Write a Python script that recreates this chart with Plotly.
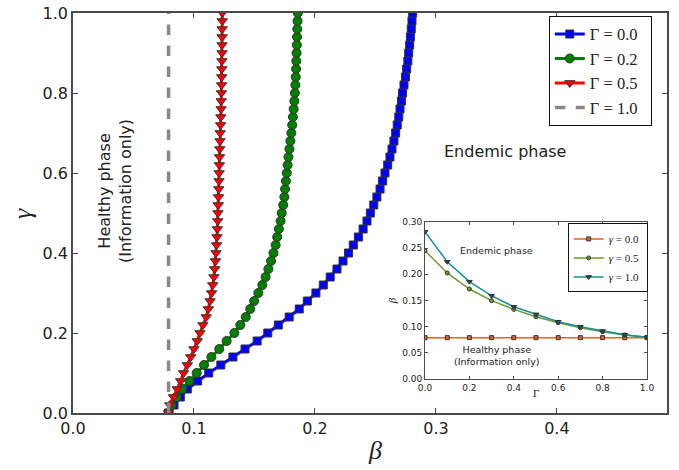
import plotly.graph_objects as go

# ---- main panel data: beta threshold vs gamma ----
gamma = [0.00, 0.02, 0.04, 0.06, 0.08, 0.10, 0.12, 0.14, 0.16, 0.18,
         0.20, 0.22, 0.24, 0.26, 0.28, 0.30, 0.32, 0.34, 0.36, 0.38,
         0.40, 0.42, 0.44, 0.46, 0.48, 0.50, 0.52, 0.54, 0.56, 0.58,
         0.60, 0.62, 0.64, 0.66, 0.68, 0.70, 0.72, 0.74, 0.76, 0.78,
         0.80, 0.82, 0.84, 0.86, 0.88, 0.90, 0.92, 0.94, 0.96, 0.98, 1.00]

beta_G00 = [0.0790, 0.0835, 0.0887, 0.0945, 0.1030, 0.1122, 0.1222, 0.1322, 0.1422, 0.1522,
            0.1610, 0.1697, 0.1787, 0.1870, 0.1937, 0.2008, 0.2069, 0.2126, 0.2182, 0.2232,
            0.2277, 0.2317, 0.2359, 0.2398, 0.2430, 0.2458, 0.2486, 0.2512, 0.2538, 0.2559,
            0.2579, 0.2601, 0.2620, 0.2637, 0.2653, 0.2667, 0.2680, 0.2693, 0.2703, 0.2715,
            0.2724, 0.2736, 0.2748, 0.2758, 0.2768, 0.2775, 0.2783, 0.2789, 0.2796, 0.2802, 0.2808]

beta_G02 = [0.0790, 0.0815, 0.0857, 0.0903, 0.0962, 0.1022, 0.1083, 0.1144, 0.1209, 0.1270,
            0.1334, 0.1383, 0.1428, 0.1465, 0.1498, 0.1532, 0.1565, 0.1592, 0.1615, 0.1637,
            0.1657, 0.1675, 0.1688, 0.1702, 0.1716, 0.1725, 0.1738, 0.1747, 0.1753, 0.1760,
            0.1767, 0.1774, 0.1781, 0.1789, 0.1797, 0.1805, 0.1812, 0.1818, 0.1824, 0.1830,
            0.1834, 0.1838, 0.1841, 0.1844, 0.1846, 0.1848, 0.1850, 0.1852, 0.1854, 0.1856, 0.1858]

beta_G05 = [0.0790, 0.0800, 0.0830, 0.0862, 0.0890, 0.0914, 0.0945, 0.0973, 0.1000, 0.1027,
            0.1050, 0.1074, 0.1101, 0.1119, 0.1133, 0.1146, 0.1155, 0.1165, 0.1171, 0.1178,
            0.1182, 0.1187, 0.1190, 0.1193, 0.1196, 0.1198, 0.1201, 0.1203, 0.1205, 0.1207,
            0.1208, 0.1210, 0.1211, 0.1213, 0.1215, 0.1217, 0.1220, 0.1222, 0.1224, 0.1225,
            0.1227, 0.1228, 0.1229, 0.1230, 0.1231, 0.1232, 0.1232, 0.1233, 0.1233, 0.1234, 0.1234]

beta_G10 = [0.079, 0.079]
gamma_G10 = [0.0, 1.0]

# ---- inset data: beta threshold vs Gamma ----
Gam = [0.0, 0.1, 0.2, 0.3, 0.4, 0.5, 0.6, 0.7, 0.8, 0.9, 1.0]
inset_g00 = [0.079, 0.079, 0.079, 0.079, 0.079, 0.079, 0.079, 0.079, 0.079, 0.079, 0.079]
inset_g05 = [0.2450, 0.2026, 0.1720, 0.1497, 0.1330, 0.1190, 0.1076, 0.0980, 0.0905, 0.0841, 0.0797]
inset_g10 = [0.2815, 0.2240, 0.1860, 0.1590, 0.1380, 0.1236, 0.1095, 0.1000, 0.0917, 0.0847, 0.0797]

main_ticks_x = [0.0, 0.1, 0.2, 0.3, 0.4]
main_ticks_y = [0.0, 0.2, 0.4, 0.6, 0.8, 1.0]
inset_ticks_x = [0.0, 0.2, 0.4, 0.6, 0.8, 1.0]
inset_ticks_y = [0.00, 0.05, 0.10, 0.15, 0.20, 0.25, 0.30]

SANS = "DejaVu Sans"
SERIF = "Liberation Serif"
AX = "#4a4a4a"
TXT = "#222222"
EDGE = "#333333"
PAD = "&nbsp;&nbsp;"

fig = go.Figure()

# main traces
fig.add_trace(go.Scatter(x=beta_G00, y=gamma, mode="lines+markers", name="Γ = 0.0" + PAD,
                         line=dict(color="#0000ff", width=3),
                         marker=dict(symbol="square", size=8, color="#0000ff",
                                     line=dict(color=EDGE, width=1))))
fig.add_trace(go.Scatter(x=beta_G02, y=gamma, mode="lines+markers", name="Γ = 0.2" + PAD,
                         line=dict(color="#008000", width=3),
                         marker=dict(symbol="circle", size=9, color="#008000",
                                     line=dict(color=EDGE, width=1))))
fig.add_trace(go.Scatter(x=beta_G05, y=gamma, mode="lines+markers", name="Γ = 0.5" + PAD,
                         line=dict(color="#ff0000", width=3),
                         marker=dict(symbol="triangle-down", size=9, color="#ff0000",
                                     line=dict(color=EDGE, width=1))))
fig.add_trace(go.Scatter(x=beta_G10, y=gamma_G10, mode="lines", name="Γ = 1.0" + PAD,
                         line=dict(color="#888888", width=3.5, dash="dash")))

# inset traces
fig.add_trace(go.Scatter(x=Gam, y=inset_g00, mode="lines+markers", name="<i>γ</i> = 0.0&nbsp;",
                         xaxis="x2", yaxis="y2", legend="legend2",
                         line=dict(color="#e8601c", width=1.5),
                         marker=dict(symbol="square", size=4, color="#e8601c",
                                     line=dict(color=EDGE, width=1))))
fig.add_trace(go.Scatter(x=Gam, y=inset_g05, mode="lines+markers", name="<i>γ</i> = 0.5&nbsp;",
                         xaxis="x2", yaxis="y2", legend="legend2",
                         line=dict(color="#6f9a2e", width=1.5),
                         marker=dict(symbol="circle", size=4, color="#6f9a2e",
                                     line=dict(color=EDGE, width=1))))
fig.add_trace(go.Scatter(x=Gam, y=inset_g10, mode="lines+markers", name="<i>γ</i> = 1.0&nbsp;",
                         xaxis="x2", yaxis="y2", legend="legend2",
                         line=dict(color="#178f9a", width=1.5),
                         marker=dict(symbol="triangle-down", size=5, color="#2a4a50",
                                     line=dict(color=EDGE, width=1))))

axis_common = dict(showline=True, linecolor=AX, mirror="ticks", ticks="inside",
                   tickcolor=AX, showgrid=False, zeroline=False, automargin=False)

fig.update_layout(
    width=679, height=470,
    margin=dict(l=73, r=12, t=13, b=57),
    paper_bgcolor="white", plot_bgcolor="white",
    xaxis=dict(domain=[0, 1], range=[0, 0.491], tickvals=main_ticks_x,
               ticktext=[f"{v:.1f}" for v in main_ticks_x],
               linewidth=1.5, ticklen=5, tickwidth=1,
               tickfont=dict(family=SANS, size=16, color=TXT), **axis_common),
    yaxis=dict(domain=[0, 1], range=[0, 1], tickvals=main_ticks_y,
               ticktext=[f"{v:.1f}" for v in main_ticks_y],
               linewidth=1.5, ticklen=5, tickwidth=1,
               tickfont=dict(family=SANS, size=16, color=TXT), **axis_common),
    xaxis2=dict(domain=[0.5926, 0.9663], range=[0, 1], anchor="y2",
                tickvals=inset_ticks_x, ticktext=[f"{v:.1f}" for v in inset_ticks_x],
                linewidth=1, ticklen=3, tickwidth=1,
                tickfont=dict(family=SANS, size=9, color=TXT), **axis_common),
    yaxis2=dict(domain=[0.085, 0.4775], range=[0, 0.30], anchor="x2",
                tickvals=inset_ticks_y, ticktext=[f"{v:.2f}" for v in inset_ticks_y],
                linewidth=1, ticklen=3, tickwidth=1,
                tickfont=dict(family=SANS, size=9, color=TXT), **axis_common),
    legend=dict(x=0.801, y=0.993, xanchor="left", yanchor="top",
                bgcolor="white", bordercolor="#111111", borderwidth=1,
                font=dict(family=SERIF, size=16.5, color=TXT),
                itemwidth=30, tracegroupgap=0),
    legend2=dict(x=0.8328, y=0.474, xanchor="left", yanchor="top",
                 bgcolor="white", bordercolor="#111111", borderwidth=1,
                 font=dict(family=SERIF, size=11, color=TXT),
                 itemwidth=30, tracegroupgap=0),
    showlegend=True,
)

C = dict(showarrow=False, xanchor="center", yanchor="middle")
annos = [
    dict(text="Endemic phase", x=0.357, y=0.653, xref="x", yref="y",
         font=dict(family=SANS, size=16, color=TXT), **C),
    dict(text="Healthy phase<br>(Information only)", x=0.0347, y=0.555, xref="x", yref="y",
         textangle=-90, font=dict(family=SANS, size=16, color=TXT), **C),
    dict(text="Endemic phase", x=0.323, y=0.245, xref="x2", yref="y2",
         font=dict(family=SANS, size=9.5, color=TXT), **C),
    dict(text="Healthy phase<br>(Information only)", x=0.323, y=0.044, xref="x2", yref="y2",
         font=dict(family=SANS, size=9.5, color=TXT), **C),
    dict(text="<i>β</i>", x=0.508, y=-0.0925, xref="paper", yref="paper",
         font=dict(family=SERIF, size=26, color=TXT), **C),
    dict(text="<i>γ</i>", x=-0.086, y=0.5, xref="paper", yref="paper", textangle=-90,
         font=dict(family=SERIF, size=26, color=TXT), **C),
    dict(text="Γ", x=0.5, y=-0.089, xref="x2 domain", yref="y2 domain",
         font=dict(family=SERIF, size=11, color=TXT), **C),
    dict(text="<i>β</i>", x=-0.15, y=0.5, xref="x2 domain", yref="y2 domain",
         textangle=-90, font=dict(family=SERIF, size=11, color=TXT), **C),
]
fig.update_layout(annotations=annos)

fig.write_html("out.html", config={"displayModeBar": False},
               post_script="document.body.style.margin='0';")
